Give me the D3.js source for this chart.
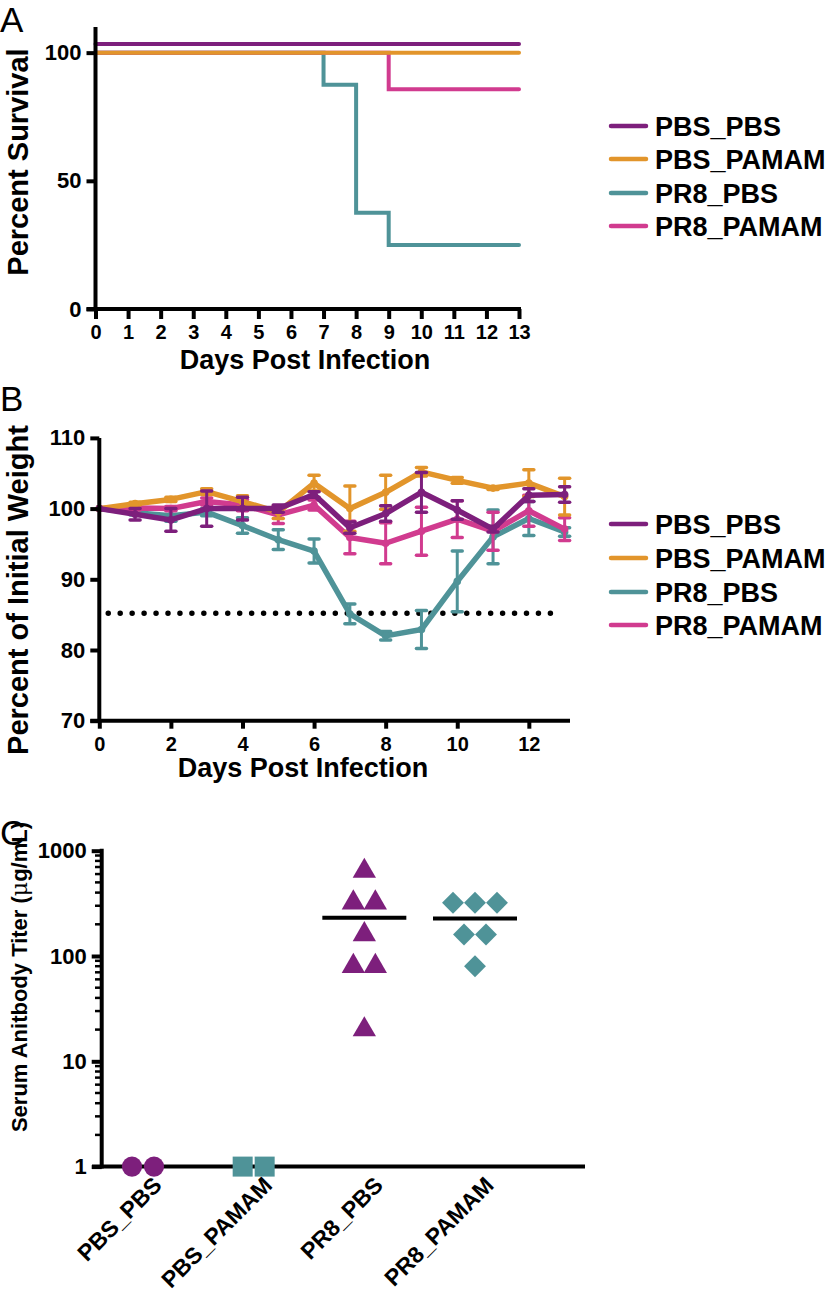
<!DOCTYPE html>
<html><head><meta charset="utf-8">
<script src="https://cdn.jsdelivr.net/npm/d3@7"></script>
<style>body{margin:0;background:#fff}svg{display:block}</style>
</head><body>
<script>
// ---------- DATA ----------
const groups = ["PBS_PBS", "PBS_PAMAM", "PR8_PBS", "PR8_PAMAM"];
const colors = ["#7d1f7c", "#e2952b", "#4f9398", "#d13b8f"];

// Panel A: survival step curves (days at which value changes)
const survDays_PBS_PBS = [0, 13];
const survVals_PBS_PBS = [103.4, 103.4];
const survDays_PBS_PAMAM = [0, 13];
const survVals_PBS_PAMAM = [100, 100];
const survDays_PR8_PBS = [0, 7, 8, 9, 13];
const survVals_PR8_PBS = [100, 87.5, 37.5, 25, 25];
const survDays_PR8_PAMAM = [0, 9, 13];
const survVals_PR8_PAMAM = [100, 85.7, 85.7];
const survTicksX = [0,1,2,3,4,5,6,7,8,9,10,11,12,13];
const survTicksY = [0, 50, 100];

// Panel B: weight (mean, error) per day 0..13
const days = [0,1,2,3,4,5,6,7,8,9,10,11,12,13];
const wMean_PBS_PBS   = [100, 99.2, 98.4, 100, 100, 100, 102, 97.3, 99.3, 102.3, 99.8, 97.1, 101.9, 102.0];
const wErr_PBS_PBS    = [0, 0.8, 1.6, 2.5, 1.6, 0.5, 0.4, 0.8, 1.1, 2.8, 1.3, 0.4, 0.9, 1.1];
const wMean_PBS_PAMAM = [100, 100.7, 101.3, 102.4, 101.0, 99.5, 103.6, 100.0, 102.3, 105.2, 104.0, 102.9, 103.6, 101.7];
const wErr_PBS_PAMAM  = [0, 0.2, 0.3, 0.4, 0.8, 0.9, 1.1, 3.2, 2.4, 0.6, 0.4, 0.2, 1.9, 2.6];
const wMean_PR8_PBS   = [100, 99.4, 99.0, 99.5, 97.6, 95.6, 94.0, 85.1, 82.0, 82.9, 89.7, 96.0, 98.6, 96.7];
const wErr_PR8_PBS    = [0, 0.3, 0.8, 0.5, 1.1, 1.4, 1.7, 1.4, 0.6, 2.7, 4.3, 3.8, 2.4, 0.6];
const wMean_PR8_PAMAM = [100, 100.1, 100.0, 101.0, 100.5, 99.1, 100.5, 95.9, 95.1, 96.8, 98.5, 96.8, 99.7, 97.1];
const wErr_PR8_PAMAM  = [0, 0.3, 0.3, 0.5, 0.8, 1.2, 0.7, 2.3, 2.9, 3.4, 2.6, 2.7, 2.2, 1.6];
const weightThreshold = [85.2];
const thresholdSpan = [0.25, 12.75];
const weightTicksX = [0,2,4,6,8,10,12];
const weightTicksY = [70, 80, 90, 100, 110];

// Panel C: antibody titers
const titer_PBS_PBS   = [1, 1];
const titer_PBS_PAMAM = [1, 1];
const titer_PR8_PBS   = [640, 320, 320, 160, 80, 80, 20];
const titer_PR8_PAMAM = [320, 320, 320, 160, 160, 80];
const titerMeans = [null, null, 231, 227];
const titerTicksY = [1, 10, 100, 1000];

// ---------- SETUP ----------
const W = 829, H = 1301;
const FONT = "'Liberation Sans', Arial, Helvetica, sans-serif";
const svg = d3.select("body").append("svg").attr("width", W).attr("height", H)
  .style("font-family", FONT);

function styleAxis(g, fs) {
  g.select(".domain").remove();
  g.selectAll(".tick line").attr("stroke", "#000").attr("stroke-width", 4);
  g.selectAll(".tick text").attr("fill", "#000").style("font-size", fs + "px")
    .style("font-weight", "bold").style("font-family", FONT);
}
function panelLetter(t, x, y) {
  svg.append("text").attr("x", x).attr("y", y).text(t)
    .style("font-size", "35px").style("font-weight", "normal").attr("fill", "#000");
}
function boldText(t, x, y, fs, anchor, rot) {
  const el = svg.append("text").attr("transform", `translate(${x},${y})` + (rot ? ` rotate(${rot})` : ""))
    .attr("text-anchor", anchor || "middle").style("font-size", fs + "px").style("font-weight", "bold")
    .attr("fill", "#000").text(t);
  return el;
}
function legend(x0, ys) {
  groups.forEach((g, i) => {
    svg.append("line").attr("x1", x0).attr("x2", x0 + 35).attr("y1", ys[i]).attr("y2", ys[i])
      .attr("stroke", colors[i]).attr("stroke-width", 4.5).attr("stroke-linecap", "round");
    boldText(g, x0 + 44, ys[i] + 9.5, 27, "start");
  });
}

// ---------- PANEL A ----------
const xA = d3.scaleLinear().domain([0, 13]).range([95.5, 519]);
const yA = d3.scaleLinear().domain([0, 110]).range([309, 27]);
panelLetter("A", 0, 32);
const survSeries = [
  [survDays_PR8_PBS, survVals_PR8_PBS, 2],
  [survDays_PR8_PAMAM, survVals_PR8_PAMAM, 3],
  [survDays_PBS_PAMAM, survVals_PBS_PAMAM, 1],
  [survDays_PBS_PBS, survVals_PBS_PBS, 0]
];
const stepLine = d3.line().x(d => xA(d[0])).y(d => yA(d[1])).curve(d3.curveStepAfter);
survSeries.forEach(([dd, vv, ci]) => {
  svg.append("path").attr("d", stepLine(dd.map((d, i) => [d, vv[i]])))
    .attr("fill", "none").attr("stroke", colors[ci]).attr("stroke-width", 4)
    .attr("stroke-linecap", "round");
});
svg.append("line").attr("x1", xA(0)).attr("x2", xA(0)).attr("y1", yA(110)).attr("y2", yA(0) + 2)
  .attr("stroke", "#000").attr("stroke-width", 4);
svg.append("line").attr("x1", xA(0) - 9).attr("x2", xA(13) + 2).attr("y1", yA(0)).attr("y2", yA(0))
  .attr("stroke", "#000").attr("stroke-width", 4);
svg.append("g").attr("transform", `translate(0,${yA(0)})`)
  .call(d3.axisBottom(xA).tickValues(survTicksX).tickSize(10).tickPadding(6).tickSizeOuter(0))
  .call(g => styleAxis(g, 20));
svg.append("g").attr("transform", `translate(${xA(0)},0)`)
  .call(d3.axisLeft(yA).tickValues(survTicksY).tickSize(9).tickPadding(5).tickSizeOuter(0))
  .call(g => styleAxis(g, 22));
boldText("Days Post Infection", 305, 369, 27);
boldText("Percent Survival", 28, 162, 29, "middle", -90);
legend(611, [126, 159, 193, 226]);

// ---------- PANEL B ----------
const xB = d3.scaleLinear().domain([0, 13.15]).range([99.3, 570]);
const yB = d3.scaleLinear().domain([70, 110]).range([720.7, 437.9]);
panelLetter("B", 0, 411);
svg.append("line").attr("x1", xB(thresholdSpan[0])).attr("x2", xB(thresholdSpan[1]))
  .attr("y1", yB(weightThreshold[0])).attr("y2", yB(weightThreshold[0]))
  .attr("stroke", "#000").attr("stroke-width", 5.5).attr("stroke-linecap", "round")
  .attr("stroke-dasharray", "0 11.95");
const wSeries = [
  [wMean_PR8_PBS, wErr_PR8_PBS, 2],
  [wMean_PR8_PAMAM, wErr_PR8_PAMAM, 3],
  [wMean_PBS_PAMAM, wErr_PBS_PAMAM, 1],
  [wMean_PBS_PBS, wErr_PBS_PBS, 0]
];
const wLine = d3.line().x((d, i) => xB(days[i])).y(d => yB(d));
wSeries.forEach(([m, e, ci]) => {
  const g = svg.append("g");
  days.forEach((d, i) => {
    if (e[i] <= 0) return;
    const x = xB(d);
    g.append("line").attr("x1", x).attr("x2", x).attr("y1", yB(m[i] - e[i])).attr("y2", yB(m[i] + e[i]))
      .attr("stroke", colors[ci]).attr("stroke-width", 3);
    [m[i] - e[i], m[i] + e[i]].forEach(v => {
      g.append("line").attr("x1", x - 5).attr("x2", x + 5).attr("y1", yB(v)).attr("y2", yB(v))
        .attr("stroke", colors[ci]).attr("stroke-width", 3.5).attr("stroke-linecap", "round");
    });
  });
  g.append("path").attr("d", wLine(m)).attr("fill", "none").attr("stroke", colors[ci])
    .attr("stroke-width", 5.5).attr("stroke-linejoin", "round");
  g.selectAll("circle").data(m).join("circle").attr("cx", (d, i) => xB(days[i])).attr("cy", d => yB(d))
    .attr("r", 3.8).attr("fill", colors[ci]);
});
svg.append("line").attr("x1", xB(0)).attr("x2", xB(0)).attr("y1", yB(110)).attr("y2", yB(70) + 2)
  .attr("stroke", "#000").attr("stroke-width", 4);
svg.append("line").attr("x1", xB(0) - 9).attr("x2", xB(13.15)).attr("y1", yB(70)).attr("y2", yB(70))
  .attr("stroke", "#000").attr("stroke-width", 4);
svg.append("g").attr("transform", `translate(0,${yB(70)})`)
  .call(d3.axisBottom(xB).tickValues(weightTicksX).tickSize(8).tickPadding(8).tickSizeOuter(0))
  .call(g => styleAxis(g, 20));
svg.append("g").attr("transform", `translate(${xB(0)},0)`)
  .call(d3.axisLeft(yB).tickValues(weightTicksY).tickSize(9).tickPadding(5).tickSizeOuter(0))
  .call(g => styleAxis(g, 22));
boldText("Days Post Infection", 303, 777, 27);
boldText("Percent of Initial Weight", 28, 590, 29, "middle", -90);
legend(611, [524, 558, 592, 625]);

// ---------- PANEL C ----------
const xC = d3.scalePoint().domain(groups).range([143, 475]);
const yC = d3.scaleLog().domain([1, 1000]).range([1166.6, 850.7]);
panelLetter("C", 0, 845);
svg.append("line").attr("x1", 101.7).attr("x2", 101.7).attr("y1", yC(1000) - 2).attr("y2", yC(1) + 2)
  .attr("stroke", "#000").attr("stroke-width", 4);
svg.append("line").attr("x1", 92).attr("x2", 585).attr("y1", yC(1)).attr("y2", yC(1))
  .attr("stroke", "#000").attr("stroke-width", 4);
const minorTicks = [];
[1, 10, 100].forEach(b => { for (let k = 2; k <= 9; k++) minorTicks.push(b * k); });
svg.append("g").selectAll("line").data(minorTicks).join("line")
  .attr("x1", 95).attr("x2", 101.7).attr("y1", d => yC(d)).attr("y2", d => yC(d))
  .attr("stroke", "#000").attr("stroke-width", 2.5);
svg.append("g").attr("transform", `translate(101.7,0)`)
  .call(d3.axisLeft(yC).tickValues(titerTicksY).tickFormat(d3.format("d")).tickSize(10).tickPadding(5).tickSizeOuter(0))
  .call(g => styleAxis(g, 22));
groups.forEach(g => {
  boldText(g, xC(g) + 20, yC(1) + 20, 23, "end", -45);
});
const titerSets = [
  [titer_PBS_PBS, d3.symbolCircle, 320, 0, 0],
  [titer_PBS_PAMAM, d3.symbolSquare, 400, 2, 0],
  [titer_PR8_PBS, d3.symbolTriangle, 235, 0, 0],
  [titer_PR8_PAMAM, d3.symbolSquare, 240, 2, 45]
];
titerSets.forEach(([vals, sym, size, ci, rot], gi) => {
  const cx = xC(groups[gi]);
  const counts = d3.rollup(vals, v => v.length, d => d);
  const seen = new Map();
  vals.forEach(v => {
    const n = counts.get(v), k = seen.get(v) || 0; seen.set(v, k + 1);
    const x = cx + (k - (n - 1) / 2) * 22;
    svg.append("path").attr("d", d3.symbol().type(sym).size(size)())
      .attr("transform", `translate(${x},${yC(v)}) rotate(${rot})`).attr("fill", colors[ci]);
  });
  if (titerMeans[gi]) {
    svg.append("line").attr("x1", cx - 42).attr("x2", cx + 42)
      .attr("y1", yC(titerMeans[gi])).attr("y2", yC(titerMeans[gi]))
      .attr("stroke", "#000").attr("stroke-width", 4);
  }
});
const tt = boldText("", 27, 977, 22, "middle", -90);
tt.append("tspan").text("Serum Anitbody Titer (");
tt.append("tspan").style("font-weight", "normal").style("font-family", "'DejaVu Serif', serif").text("μ");
tt.append("tspan").text("g/mL)");
</script>
</body></html>
